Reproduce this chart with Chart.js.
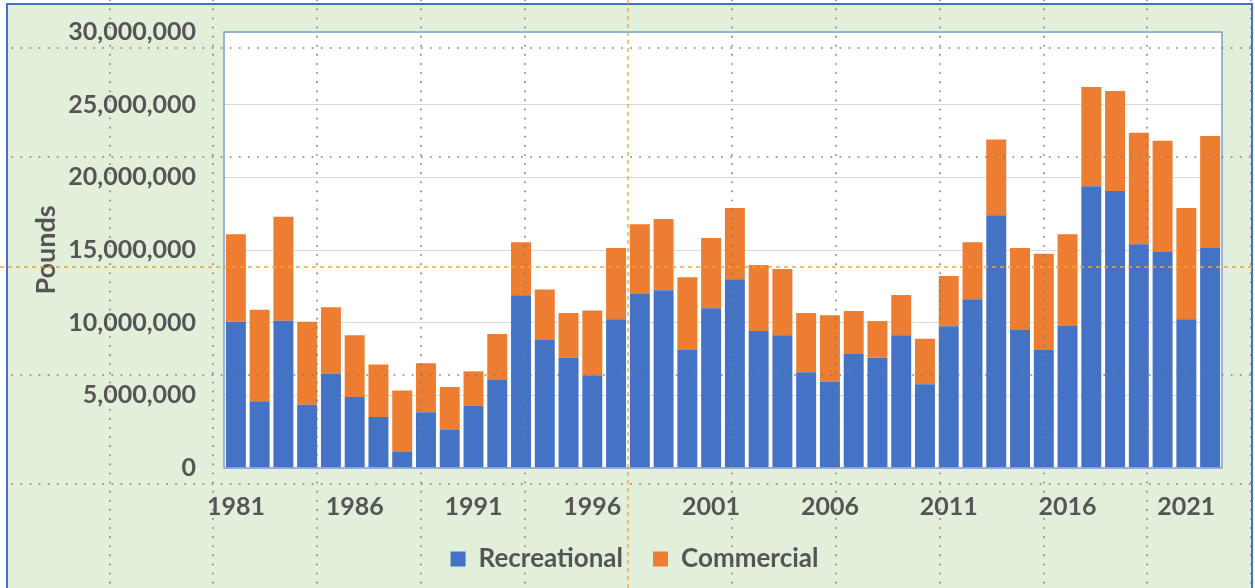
<!DOCTYPE html>
<html>
<head>
<meta charset="utf-8">
<script src="https://cdn.jsdelivr.net/npm/chart.js@4.4.0/dist/chart.umd.min.js"></script>
<style>
  html, body { margin: 0; padding: 0; background: #ffffff; }
  #wrap { width: 1255px; height: 588px; position: relative; }
</style>
</head>
<body>
<div id="wrap"><canvas id="chart" width="1255" height="588"></canvas></div>
<script>
// Landings by year (pounds)
const years = [
  '1981', '1982', '1983', '1984', '1985', '1986', '1987', '1988', '1989', '1990',
  '1991', '1992', '1993', '1994', '1995', '1996', '1997', '1998', '1999', '2000',
  '2001', '2002', '2003', '2004', '2005', '2006', '2007', '2008', '2009', '2010',
  '2011', '2012', '2013', '2014', '2015', '2016', '2017', '2018', '2019', '2020',
  '2021', '2022',
];
const recreational = [
  10070000, 4590000, 10140000, 4360000, 6510000, 4890000, 3510000, 1100000, 3830000, 2660000,
  4270000, 6060000, 11880000, 8810000, 7590000, 6380000, 10230000, 11970000, 12230000, 8120000,
  10990000, 12980000, 9430000, 9130000, 6580000, 5960000, 7840000, 7590000, 9130000, 5760000,
  9750000, 11610000, 17390000, 9500000, 8120000, 9770000, 19390000, 19060000, 15390000, 14860000,
  10230000, 15140000,
];
const commercial = [
  6010000, 6300000, 7150000, 5710000, 4550000, 4240000, 3620000, 4240000, 3370000, 2910000,
  2380000, 3160000, 3650000, 3480000, 3080000, 4450000, 4910000, 4800000, 4900000, 5000000,
  4840000, 4910000, 4540000, 4560000, 4090000, 4550000, 2960000, 2520000, 2770000, 3140000,
  3460000, 3920000, 5220000, 5640000, 6630000, 6310000, 6830000, 6880000, 7680000, 7660000,
  7660000, 7700000,
];
const yTicks = [0, 5000000, 10000000, 15000000, 20000000, 25000000, 30000000];

const TEXT = '#555555';
const BLUE = '#4472C4';
const ORANGE = '#ED7D31';
const FONT = 'Lato, "Open Sans", sans-serif';

// Green panel, white plot area, and the frame lines
const backdrop = {
  id: 'backdrop',
  beforeDraw(chart) {
    const { ctx, chartArea: a } = chart;
    ctx.save();
    ctx.fillStyle = '#ffffff';
    ctx.fillRect(0, 0, chart.width, chart.height);
    ctx.fillStyle = '#E2EFDA';
    ctx.fillRect(7, 4, 1245, 600);
    ctx.strokeStyle = BLUE;
    ctx.lineWidth = 2;
    ctx.strokeRect(7, 4, 1245, 600);
    ctx.fillStyle = '#ffffff';
    ctx.fillRect(a.left, a.top, a.right - a.left, a.bottom - a.top);
    ctx.restore();
  },
  afterDraw(chart) {
    const { ctx, chartArea: a } = chart;
    ctx.save();
    ctx.strokeStyle = '#7F9ED8';
    ctx.lineWidth = 1.5;
    ctx.strokeRect(a.left, a.top, a.right - a.left, a.bottom - a.top);

    // dotted guide grid laid over the picture
    ctx.strokeStyle = '#7a7a7a';
    ctx.lineWidth = 1.6;
    ctx.lineCap = 'round';
    ctx.setLineDash([0.5, 8.6]);
    [110, 213, 317, 421, 525, 732, 836, 940, 1044, 1147, 1251].forEach((x) => {
      ctx.beginPath();
      ctx.moveTo(x, 0);
      ctx.lineTo(x, chart.height);
      ctx.stroke();
    });
    [48, 157, 375, 484].forEach((y) => {
      ctx.beginPath();
      ctx.moveTo(12, y);
      ctx.lineTo(chart.width, y);
      ctx.stroke();
    });

    // orange centre crosshair
    ctx.strokeStyle = '#F2A43A';
    ctx.lineWidth = 1.3;
    ctx.lineCap = 'butt';
    ctx.setLineDash([4, 4]);
    ctx.beginPath();
    ctx.moveTo(628, 0);
    ctx.lineTo(628, chart.height);
    ctx.moveTo(0, 267);
    ctx.lineTo(chart.width, 267);
    ctx.stroke();
    ctx.restore();
  },
};

// Fix the legend band height so the plot area lands where it should
const legendHeight = {
  id: 'legendHeight',
  afterInit(chart) {
    const legend = chart.legend;
    if (!legend) return;
    const fit = legend.fit;
    legend.fit = function () {
      fit.call(this);
      this.height = 72;
    };
  },
};

new Chart(document.getElementById('chart'), {
  type: 'bar',
  data: {
    labels: years,
    datasets: [
      {
        label: 'Recreational',
        data: recreational,
        backgroundColor: BLUE,
        categoryPercentage: 1,
        barPercentage: 0.84,
      },
      {
        label: 'Commercial',
        data: commercial,
        backgroundColor: ORANGE,
        categoryPercentage: 1,
        barPercentage: 0.84,
      },
    ],
  },
  options: {
    responsive: false,
    animation: false,
    layout: { padding: { left: 47, right: 33, top: 32, bottom: 0 } },
    plugins: {
      legend: {
        position: 'bottom',
        labels: {
          color: TEXT,
          font: { family: FONT, size: 26, weight: 'bold' },
          boxWidth: 15,
          boxHeight: 15,
          padding: 30,
        },
      },
      tooltip: { enabled: false },
    },
    scales: {
      x: {
        stacked: true,
        grid: { display: false, drawTicks: false },
        border: { display: false },
        ticks: {
          color: TEXT,
          font: { family: FONT, size: 25, weight: 'bold' },
          autoSkip: false,
          maxRotation: 0,
          padding: 24,
          callback: (value, index) => (index % 5 === 0 ? years[index] : ''),
        },
        afterFit: (scale) => {
          scale.height = 48;
          scale.paddingLeft = 0;
          scale.paddingRight = 0;
        },
      },
      y: {
        stacked: true,
        min: yTicks[0],
        max: yTicks[yTicks.length - 1],
        afterBuildTicks: (scale) => { scale.ticks = yTicks.map((value) => ({ value })); },
        grid: { color: '#D9D9D9', lineWidth: 1, drawTicks: false },
        border: { display: false },
        ticks: {
          color: TEXT,
          font: { family: FONT, size: 25, weight: 'bold' },
          padding: 28,
          callback: (value) => value.toLocaleString('en-US'),
        },
        title: {
          display: true,
          text: 'Pounds',
          color: TEXT,
          font: { family: FONT, size: 27, weight: 'bold' },
          padding: { top: -17, bottom: 0 },
        },
        afterFit: (scale) => {
          scale.width = 177;
          scale.paddingTop = 0;
          scale.paddingBottom = 0;
        },
      },
    },
  },
  plugins: [backdrop, legendHeight],
});
</script>
</body>
</html>
